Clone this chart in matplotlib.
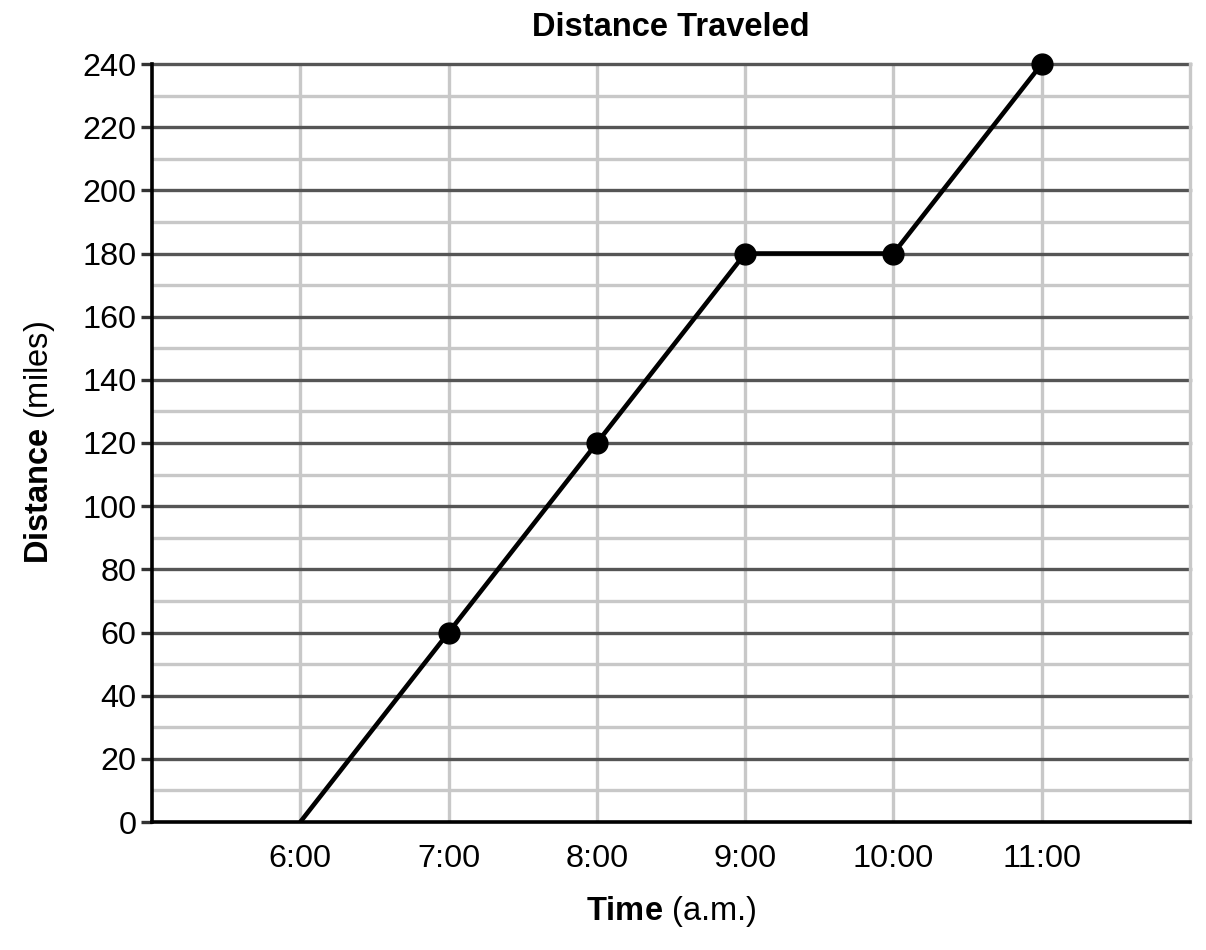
import matplotlib
matplotlib.use("Agg")
import matplotlib.pyplot as plt

# data
hours = [6, 7, 8, 9, 10, 11]
miles = [0, 60, 120, 180, 180, 240]
hour_labels = ["6:00", "7:00", "8:00", "9:00", "10:00", "11:00"]
y_ticks = list(range(0, 241, 20))

plt.rcParams['font.family'] = ['Liberation Sans', 'DejaVu Sans']
plt.rcParams['mathtext.fontset'] = 'custom'
plt.rcParams['mathtext.rm'] = 'Liberation Sans'
plt.rcParams['mathtext.bf'] = 'Liberation Sans:bold'

fig = plt.figure(figsize=(12.06, 9.5), dpi=100)
ax = fig.add_axes([152 / 1206, 128 / 950, (1190 - 152) / 1206, (822 - 64) / 950])

ax.set_xlim(5, 12)
ax.set_ylim(0, 240)

# grid: minor light every 10, major dark every 20, vertical light at hours
for y in range(10, 240, 20):
    ax.axhline(y, color='#c8c8c8', lw=2.4, zorder=1)
for y in y_ticks[1:]:
    ax.axhline(y, color='#555555', lw=2.4, zorder=2, clip_on=False)
for h in hours:
    ax.axvline(h, color='#c8c8c8', lw=2.4, zorder=1.5)

ax.plot(hours, miles, color='black', lw=3.3, zorder=3, solid_capstyle='butt')
ax.plot(hours[1:], miles[1:], 'o', color='black', ms=15, zorder=4, clip_on=False)

ax.set_xticks(hours)
ax.set_xticklabels(hour_labels)
ax.set_yticks(y_ticks)
ax.tick_params(axis='x', length=0, pad=16, labelsize=23.3)
ax.tick_params(axis='y', length=8, width=2.4, color='#333333', pad=3, labelsize=23.3)

ax.spines['top'].set_visible(False)
ax.spines['right'].set_color('#c8c8c8')
ax.spines['right'].set_linewidth(2.4)
ax.spines['left'].set_linewidth(2.6)
ax.spines['bottom'].set_linewidth(2.6)
ax.spines['left'].set_zorder(5)
ax.spines['bottom'].set_zorder(5)

ax.set_title('Distance Traveled', fontsize=23.5, fontweight='bold', pad=20)
ax.set_xlabel(r'$\mathbf{Time}$ (a.m.)', fontsize=23.5, labelpad=14)
ax.set_ylabel(r'$\mathbf{Distance}$ (miles)', fontsize=23.5, labelpad=18)

fig.savefig('out.png', dpi=100)
